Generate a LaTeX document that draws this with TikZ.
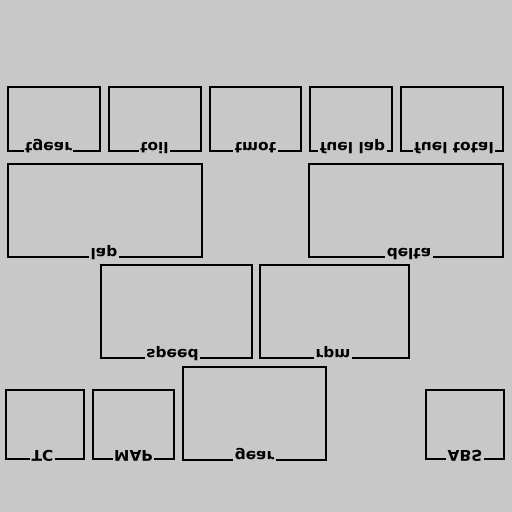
\documentclass[tikz,border=0pt]{standalone}
\usepackage{fontspec}
\setmainfont{DejaVu Sans}
\usepackage{graphicx}
\usetikzlibrary{positioning}
\definecolor{bggray}{RGB}{200,200,200}
\newcommand{\flipped}[1]{\scalebox{1.04}[-1]{#1}}

\begin{document}
\begin{tikzpicture}[x=1pt,y=-1pt,
  panel/.style={draw=black,line width=2pt,inner sep=0pt,outer sep=0pt,anchor=north west},
  tag/.style={fill=bggray,inner xsep=1.5pt,inner ysep=2pt,anchor=base,
    font=\fontsize{14.8}{16}\selectfont\bfseries}]
\useasboundingbox (0,0) rectangle (512,512);
\fill[bggray] (0,0) rectangle (512,512);
% top row
\node[panel,minimum width=92pt,minimum height=64pt] (tgear) at (7.5,87) {};
\node[panel,minimum width=92pt,minimum height=64pt] (toil) at (108.5,87) {};
\node[panel,minimum width=91pt,minimum height=64pt] (tmot) at (210,87) {};
\node[panel,minimum width=82pt,minimum height=64pt] (fuellap) at (310,87) {};
\node[panel,minimum width=102pt,minimum height=64pt] (fueltotal) at (401,87) {};
\node[tag,xshift=-5pt] (tgearlbl) at ([yshift=9pt]tgear.south) {\flipped{tgear}};
\node[tag] (toillbl) at ([yshift=9pt]toil.south) {\flipped{toil}};
\node[tag] (tmotlbl) at ([yshift=9pt]tmot.south) {\flipped{tmot}};
\node[tag,xshift=1.5pt] (fuellaplbl) at ([yshift=9pt]fuellap.south) {\flipped{fuel lap}};
\node[tag,xshift=2pt] (fueltotallbl) at ([yshift=9pt]fueltotal.south) {\flipped{fuel total}};
% lap / delta
\node[panel,minimum width=194pt,minimum height=93pt] (lap) at (8,164) {};
\node[panel,minimum width=194pt,minimum height=93pt] (delta) at (309,164) {};
\node[tag,xshift=-1pt] (laplbl) at ([yshift=9pt]lap.south) {\flipped{lap}};
\node[tag,xshift=3pt] (deltalbl) at ([yshift=9pt]delta.south) {\flipped{delta}};
% speed / rpm
\node[panel,minimum width=151pt,minimum height=93pt] (speed) at (101,265) {};
\node[panel,minimum width=149pt,minimum height=93pt] (rpm) at (260,265) {};
\node[tag,xshift=-4pt] (speedlbl) at ([yshift=9pt]speed.south) {\flipped{speed}};
\node[tag,xshift=-1.5pt] (rpmlbl) at ([yshift=9pt]rpm.south) {\flipped{rpm}};
% bottom row
\node[panel,minimum width=78pt,minimum height=69pt] (TC) at (6,390) {};
\node[panel,minimum width=81pt,minimum height=69pt] (MAP) at (93,390) {};
\node[panel,minimum width=143pt,minimum height=93pt] (gear) at (183,367) {};
\node[panel,minimum width=78pt,minimum height=69pt] (ABS) at (426,390) {};
\node[tag,xshift=-2.5pt] (TClbl) at ([yshift=9pt]TC.south) {\flipped{TC}};
\node[tag] (MAPlbl) at ([yshift=9pt]MAP.south) {\flipped{MAP}};
\node[tag] (gearlbl) at ([yshift=9pt]gear.south) {\flipped{gear}};
\node[tag] (ABSlbl) at ([yshift=9pt]ABS.south) {\flipped{ABS}};
\end{tikzpicture}
\end{document}
